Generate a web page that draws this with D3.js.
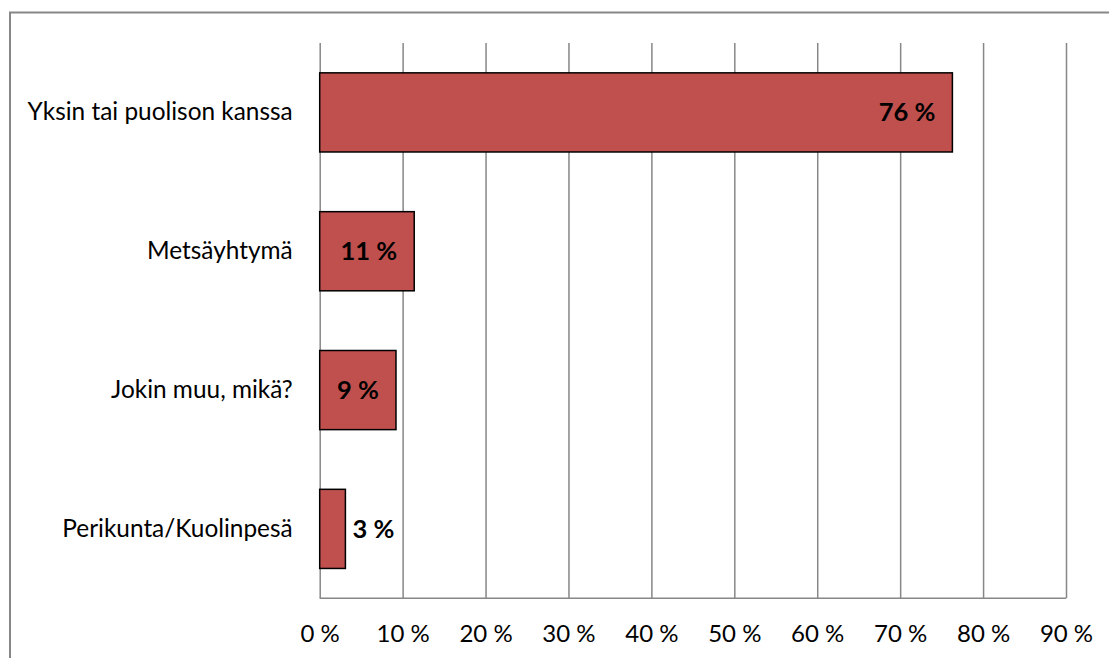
<!DOCTYPE html>
<html>
<head>
<meta charset="utf-8">
<script src="https://cdn.jsdelivr.net/npm/d3@7.9.0/dist/d3.min.js"></script>
<style>
  body { margin: 0; background: #fff; }
  svg { display: block; font-family: Lato, 'Open Sans', sans-serif; }
</style>
</head>
<body>
<div id="chart"></div>
<script>
const categories = ['Yksin tai puolison kanssa', 'Metsäyhtymä', 'Jokin muu, mikä?', 'Perikunta/Kuolinpesä'];
const values = [76.3, 11.4, 9.2, 3.1];
const valueLabels = ['76 %', '11 %', '9 %', '3 %'];
const xTicks = [0, 10, 20, 30, 40, 50, 60, 70, 80, 90];

const width = 1109;
const height = 658;

const svg = d3.select('#chart')
  .append('svg')
  .attr('width', width)
  .attr('height', height);

// outer chart frame
svg.append('rect')
  .attr('x', 10)
  .attr('y', 12.5)
  .attr('width', 1110)
  .attr('height', 700)
  .attr('fill', 'none')
  .attr('stroke', '#878787')
  .attr('stroke-width', 2);

const area = { left: 319.7, right: 1066, top: 43, bottom: 598.3 };

const xScale = d3.scaleLinear()
  .domain([0, 90])
  .range([area.left, area.right]);

const yScale = d3.scaleBand()
  .domain(categories)
  .range([area.top, area.bottom])
  .paddingInner(0.43)
  .paddingOuter(0.215);

// vertical gridlines
svg.append('g')
  .attr('class', 'gridlines')
  .attr('transform', `translate(0, ${area.bottom})`)
  .call(d3.axisBottom(xScale).tickValues(xTicks).tickSize(-(area.bottom - area.top)).tickFormat(''))
  .call((g) => g.select('.domain').remove())
  .call((g) => g.selectAll('line').attr('stroke', '#878787').attr('stroke-width', 1.5));

// axis line
svg.append('line')
  .attr('x1', area.left)
  .attr('x2', area.right)
  .attr('y1', area.bottom)
  .attr('y2', area.bottom)
  .attr('stroke', '#878787')
  .attr('stroke-width', 1.5);

// x tick labels
const xAxis = svg.append('g')
  .attr('transform', `translate(0, ${area.bottom})`)
  .call(d3.axisBottom(xScale).tickValues(xTicks).tickSize(0).tickPadding(27).tickFormat((d) => d + ' %'));
xAxis.select('.domain').remove();
xAxis.selectAll('text')
  .attr('fill', '#000')
  .style('font-size', '24px')
  .style('font-family', 'Lato, sans-serif');

// category labels
const yAxis = svg.append('g')
  .attr('transform', `translate(${area.left}, 0)`)
  .call(d3.axisLeft(yScale).tickSize(0).tickPadding(27));
yAxis.select('.domain').remove();
yAxis.selectAll('text')
  .attr('fill', '#000')
  .style('font-size', '24.4px')
  .style('font-family', 'Lato, sans-serif');

const rows = categories.map((c, i) => ({ category: c, value: values[i], label: valueLabels[i] }));

svg.append('g')
  .selectAll('rect')
  .data(rows)
  .join('rect')
  .attr('x', xScale(0))
  .attr('y', (d) => yScale(d.category))
  .attr('width', (d) => xScale(d.value) - xScale(0))
  .attr('height', yScale.bandwidth())
  .attr('fill', '#C0504D')
  .attr('stroke', '#000')
  .attr('stroke-width', 1.5);

svg.append('g')
  .selectAll('text')
  .data(rows)
  .join('text')
  .attr('x', (d) => d.value > 5 ? xScale(d.value) - 17 : xScale(d.value) + 7)
  .attr('y', (d) => yScale(d.category) + yScale.bandwidth() / 2)
  .attr('dy', '0.35em')
  .attr('text-anchor', (d) => d.value > 5 ? 'end' : 'start')
  .attr('fill', '#000')
  .style('font-size', '25.5px')
  .style('font-weight', 'bold')
  .text((d) => d.label);
</script>
</body>
</html>
